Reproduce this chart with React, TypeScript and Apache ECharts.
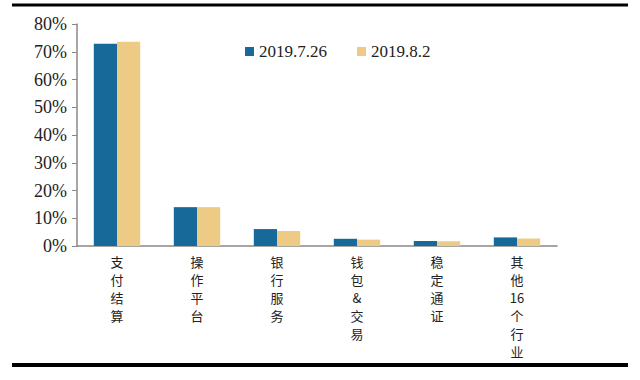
import React, { useEffect, useRef } from "react";
import * as echarts from "echarts";

const categories = ["支付结算", "操作平台", "银行服务", "钱包&交易", "稳定通证", "其他16个行业"];
const categoryLabels = ["支\n付\n结\n算", "操\n作\n平\n台", "银\n行\n服\n务", "钱\n包\n&\n交\n易", "稳\n定\n通\n证", "其\n他\n16\n个\n行\n业"];
const seriesNames = ["2019.7.26", "2019.8.2"];
const valuesJul26 = [72.9, 14.0, 6.1, 2.6, 1.8, 3.1];
const valuesAug2 = [73.6, 14.0, 5.4, 2.3, 1.7, 2.7];
const yTicks = [0, 10, 20, 30, 40, 50, 60, 70, 80];

const SERIF = "'Liberation Serif', 'Times New Roman', serif";

export default function App() {
  const ref = useRef<HTMLDivElement>(null);
  useEffect(() => {
    if (!ref.current) return;
    const chart = echarts.init(ref.current, null, { renderer: "svg" });
    const labelMap: Record<string, string> = {};
    categories.forEach((c, i) => (labelMap[c] = categoryLabels[i]));
    chart.setOption({
      animation: false,
      backgroundColor: "#ffffff",
      legend: {
        left: 240,
        top: 38,
        itemWidth: 9,
        itemHeight: 9,
        itemGap: 30,
        icon: "rect",
        textStyle: { fontFamily: SERIF, fontSize: 17, color: "#222" },
        data: seriesNames,
      },
      grid: { left: 77, right: 83, top: 24, bottom: 134, containLabel: false },
      xAxis: {
        type: "category",
        data: categories,
        axisLine: { lineStyle: { color: "#888", width: 1.5 } },
        axisTick: { show: false },
        axisLabel: {
          interval: 0,
          margin: 6,
          fontFamily: "'Noto Sans CJK SC', sans-serif",
          fontSize: 13,
          lineHeight: 18,
          color: "#222",
          formatter: (v: string) => labelMap[v] ?? v,
        },
      },
      yAxis: {
        type: "value",
        min: yTicks[0],
        max: yTicks[yTicks.length - 1],
        interval: 10,
        splitLine: { show: false },
        axisLine: { show: true, lineStyle: { color: "#888", width: 1.5 } },
        axisTick: { show: true, length: 5, lineStyle: { color: "#888" } },
        axisLabel: {
          margin: 10,
          fontFamily: SERIF,
          fontSize: 18,
          color: "#222",
          formatter: "{value}%",
        },
      },
      series: [
        {
          name: seriesNames[0],
          type: "bar",
          data: valuesJul26,
          barGap: "0%",
          barCategoryGap: "42%",
          itemStyle: { color: "#17699A" },
        },
        {
          name: seriesNames[1],
          type: "bar",
          data: valuesAug2,
          barGap: "0%",
          barCategoryGap: "42%",
          itemStyle: { color: "#EDCB85" },
        },
      ],
      graphic: [
        { type: "line", shape: { x1: 12, y1: 5, x2: 628, y2: 5 }, style: { stroke: "#000", lineWidth: 3 } },
        { type: "line", shape: { x1: 12, y1: 365, x2: 628, y2: 365 }, style: { stroke: "#000", lineWidth: 4 } },
      ],
    });
    return () => chart.dispose();
  }, []);
  return <div ref={ref} style={{ position: "fixed", left: 0, top: 0, width: 640, height: 380 }} />;
}
